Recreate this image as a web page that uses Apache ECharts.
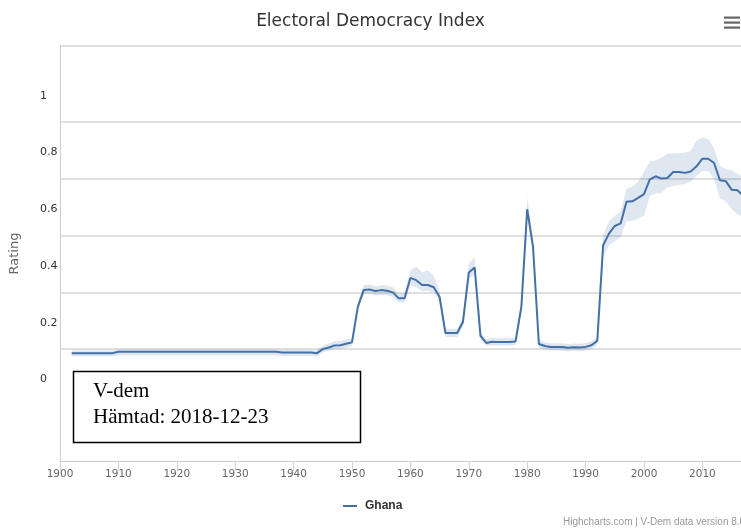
<!DOCTYPE html>
<html>
<head>
<meta charset="utf-8">
<script src="https://cdn.jsdelivr.net/npm/echarts@6/dist/echarts.min.js"></script>
<style>
html,body{margin:0;padding:0;background:#fff;}
#chart{width:741px;height:530px;}
</style>
</head>
<body>
<div id="chart"></div>
<script>
// ---- Data (V-Dem Electoral Democracy Index, Ghana) ----
const firstYear = 1902;
const seriesName = 'Ghana';
const ghana = [
  0.086,0.086,0.086,0.086,0.086,0.086,0.086,0.086,            // 1902-1909
  0.091,0.091,0.091,0.091,0.091,0.091,0.091,0.091,0.091,0.091, // 1910-1919
  0.091,0.091,0.091,0.091,0.091,0.091,0.091,0.091,0.091,0.091, // 1920-1929
  0.091,0.091,0.091,0.091,0.091,0.091,0.091,0.091,            // 1930-1937
  0.088,0.088,0.088,0.088,0.088,0.088,0.086,                  // 1938-1944
  0.100,0.106,0.113,0.114,0.119,0.124,                        // 1945-1950
  0.249,0.308,0.310,0.305,0.308,0.306,0.300,0.279,0.279,      // 1951-1959
  0.351,0.343,0.326,0.326,0.318,0.284,0.157,0.157,0.157,0.196, // 1960-1969
  0.370,0.388,0.147,0.122,0.126,0.125,0.125,0.125,0.127,0.249, // 1970-1979
  0.593,0.460,0.118,0.111,0.108,0.108,0.108,0.105,0.107,0.106, // 1980-1989
  0.108,0.114,0.129,0.466,0.507,0.534,0.543,0.619,0.621,0.633, // 1990-1999
  0.646,0.698,0.709,0.701,0.703,0.724,0.724,0.721,0.726,0.744, // 2000-2009
  0.771,0.771,0.756,0.695,0.692,0.662,0.660,0.640              // 2010-2017
];
const ghanaLow = [
  0.074,0.074,0.074,0.074,0.074,0.074,0.074,0.074,
  0.078,0.078,0.078,0.078,0.078,0.078,0.078,0.078,0.078,0.078,
  0.078,0.078,0.078,0.078,0.078,0.078,0.078,0.078,0.078,0.078,
  0.078,0.078,0.078,0.078,0.078,0.078,0.078,0.078,
  0.076,0.076,0.076,0.076,0.076,0.076,0.074,
  0.088,0.094,0.100,0.101,0.105,0.110,
  0.235,0.293,0.295,0.290,0.292,0.290,0.284,0.264,0.264,
  0.325,0.318,0.305,0.305,0.300,0.265,0.143,0.143,0.143,0.182,
  0.345,0.365,0.133,0.110,0.113,0.112,0.112,0.112,0.114,0.232,
  0.565,0.440,0.104,0.098,0.095,0.095,0.095,0.092,0.094,0.093,
  0.095,0.101,0.115,0.425,0.465,0.480,0.495,0.550,0.552,0.560,
  0.570,0.640,0.648,0.650,0.670,0.675,0.678,0.682,0.690,0.710,
  0.728,0.728,0.700,0.632,0.620,0.595,0.575,0.565
];
const ghanaHigh = [
  0.096,0.096,0.096,0.096,0.096,0.096,0.096,0.096,
  0.100,0.100,0.100,0.100,0.100,0.100,0.100,0.100,0.100,0.100,
  0.100,0.100,0.100,0.100,0.100,0.100,0.100,0.100,0.100,0.100,
  0.100,0.100,0.100,0.100,0.100,0.100,0.100,0.100,
  0.098,0.098,0.098,0.098,0.098,0.098,0.097,
  0.112,0.120,0.128,0.129,0.133,0.138,
  0.265,0.325,0.328,0.322,0.325,0.323,0.318,0.296,0.298,
  0.378,0.392,0.370,0.378,0.358,0.305,0.172,0.172,0.172,0.215,
  0.400,0.425,0.162,0.135,0.139,0.138,0.138,0.138,0.141,0.268,
  0.636,0.485,0.132,0.124,0.121,0.121,0.121,0.118,0.120,0.119,
  0.122,0.128,0.143,0.505,0.550,0.570,0.585,0.665,0.672,0.690,
  0.725,0.762,0.765,0.775,0.788,0.790,0.790,0.792,0.798,0.835,
  0.845,0.840,0.808,0.745,0.735,0.730,0.718,0.708
];
const yLabelValues = [0, 0.2, 0.4, 0.6, 0.8, 1];
const yGridValues = [0.1, 0.3, 0.5, 0.7, 0.9, 1.168];

// ---- Build ----
const years = ghana.map((_, i) => firstYear + i);
const mainData = years.map((y, i) => [y, ghana[i]]);
const bandData = years.map((y, i) => [y, ghanaLow[i], ghanaHigh[i]]);

const lineColor = '#4470a8';
const chart = echarts.init(document.getElementById('chart'), null, {renderer: 'canvas'});
chart.setOption({
  animation: false,
  backgroundColor: '#fff',
  title: {
    text: 'Electoral Democracy Index',
    left: 'center',
    top: 8,
    textStyle: {fontFamily: 'DejaVu Sans', fontSize: 17, fontWeight: 'normal', color: '#333'}
  },
  legend: {
    data: [seriesName],
    left: 343,
    top: 500,
    padding: 0,
    icon: 'rect',
    itemWidth: 14,
    itemHeight: 2,
    textStyle: {fontFamily: 'Liberation Sans', fontSize: 12, fontWeight: 'bold', color: '#333', padding: [0,0,0,3]}
  },
  grid: {left: 60, top: 46, right: -19.8, bottom: 69, containLabel: false, outerBoundsMode: 'none'},
  xAxis: {
    type: 'value',
    min: 1900,
    max: 2020,
    interval: 10,
    axisLine: {show: true, onZero: false, lineStyle: {color: '#cccccc', width: 1}},
    axisTick: {show: true, length: 10, lineStyle: {color: '#ccd6eb'}},
    axisLabel: {margin: 8, color: '#666', fontFamily: 'DejaVu Sans', fontSize: 10.5, formatter: v => String(v)},
    splitLine: {show: false}
  },
  yAxis: {
    type: 'value',
    min: -0.294,
    max: 1.168,
    name: 'Rating',
    nameLocation: 'middle',
    nameGap: 39,
    nameTextStyle: {fontFamily: 'DejaVu Sans', fontSize: 13, color: '#666'},
    axisLine: {show: true, onZero: false, lineStyle: {color: '#cccccc', width: 1}},
    axisTick: {show: false, customValues: yGridValues},
    axisLabel: {
      customValues: yLabelValues,
      align: 'left',
      verticalAlign: 'top',
      lineHeight: 4,
      margin: 20,
      color: '#333',
      fontFamily: 'DejaVu Sans',
      fontSize: 11,
      formatter: v => String(+v.toFixed(2))
    },
    splitLine: {show: true, lineStyle: {color: '#d4d4d4', width: 1.5}}
  },
  series: [
    {
      name: 'range', type: 'custom', data: bandData, silent: true, clip: true, z: 1,
      encode: {x: 0, y: [1, 2]},
      renderItem: function (params, api) {
        if (params.dataIndex !== 0) return null;
        const upper = bandData.map(d => api.coord([d[0], d[2]]));
        const lower = bandData.map(d => api.coord([d[0], d[1]])).reverse();
        return {
          type: 'polygon',
          shape: {points: upper.concat(lower)},
          style: {fill: 'rgba(68,112,168,0.17)'}
        };
      }
    },
    {
      name: seriesName, type: 'line', data: mainData,
      symbol: 'none', showSymbol: false,
      lineStyle: {color: lineColor, width: 2},
      itemStyle: {color: lineColor}, z: 3
    }
  ],
  graphic: [
    {type: 'rect', shape: {x: 724, y: 16.5, width: 16, height: 2.2}, style: {fill: '#666'}},
    {type: 'rect', shape: {x: 724, y: 21.5, width: 16, height: 2.2}, style: {fill: '#666'}},
    {type: 'rect', shape: {x: 724, y: 26.5, width: 16, height: 2.2}, style: {fill: '#666'}},
    {type: 'rect', z: 100, shape: {x: 73.5, y: 371.5, width: 287, height: 71},
     style: {fill: '#fff', stroke: '#000', lineWidth: 1.5}},
    {type: 'text', z: 101, left: 93, top: 381,
     style: {text: 'V-dem', fontFamily: 'Liberation Serif', fontSize: 21, fill: '#000'}},
    {type: 'text', z: 101, left: 93, top: 407,
     style: {text: 'Hämtad: 2018-12-23', fontFamily: 'Liberation Serif', fontSize: 21, fill: '#000'}},
    {type: 'text', z: 101, left: 563, top: 517,
     style: {text: 'Highcharts.com | V-Dem data version 8.0', fontFamily: 'Liberation Sans', fontSize: 10, fill: '#999'}}
  ]
});
</script>
</body>
</html>
